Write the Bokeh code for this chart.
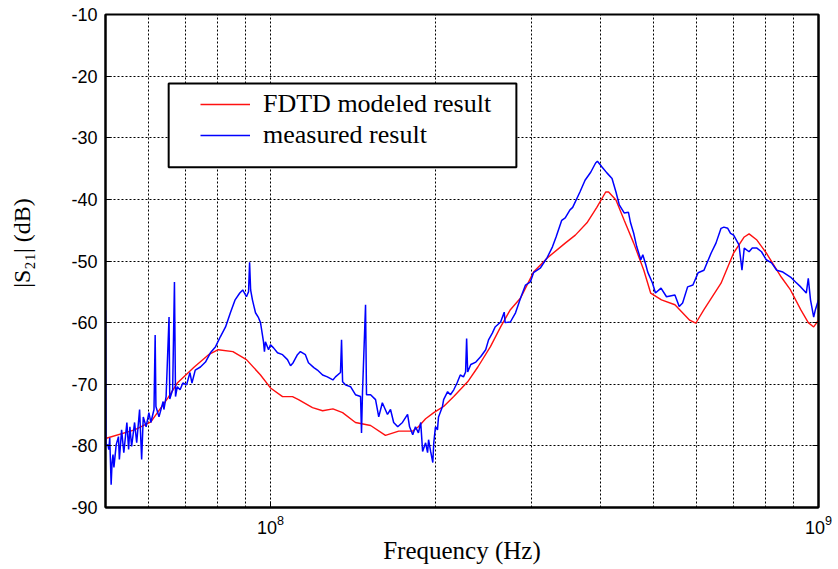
from bokeh.plotting import figure
from bokeh.models import (Range1d, FixedTicker, LinearAxis, BoxAnnotation,
                          Legend, LegendItem, ColumnDataSource)
from bokeh.embed import file_html
from bokeh.resources import INLINE

# ---------------- data (frequency in MHz, |S21| in dB) ----------------
red_f = [50.0, 56.5, 60.5, 65.0, 67.6, 72.6, 77.1, 80.3, 85.4, 90.4, 95.9, 100.0,
         105.2, 109.7, 112.5, 119.3, 124.5, 130.0, 135.4, 142.9, 152.3, 162.1, 171.4,
         181.8, 186.2, 191.9, 198.6, 207.0, 216.0, 229.0, 239.0, 252.0, 263.0, 274.0,
         286.0, 302.0, 320.0, 345.0, 360.0, 378.0, 394.0, 409.0, 414.0, 427.0, 442.0,
         460.0, 480.0, 494.0, 517.0, 547.0, 582.0, 597.0, 618.0, 664.0, 700.0, 732.0,
         747.0, 772.0, 803.0, 855.0, 889.0, 928.0, 958.0, 980.0, 1000.0]
red_db = [-78.8, -77.4, -76.1, -72.2, -69.8, -67.2, -65.2, -64.4, -64.7, -66.0, -68.5, -70.6,
          -72.0, -72.0, -72.5, -73.8, -74.3, -74.0, -74.6, -76.2, -76.7, -78.3, -77.6,
          -77.6, -76.9, -75.6, -74.6, -73.6, -72.0, -69.6, -67.2, -63.9, -60.7, -57.9,
          -56.0, -51.8, -49.5, -47.1, -45.8, -43.8, -41.3, -38.8, -38.8, -40.1, -43.4,
          -47.1, -51.5, -55.2, -56.3, -57.1, -59.6, -60.1, -57.9, -53.6, -48.7, -46.1,
          -45.6, -46.6, -48.7, -52.6, -54.7, -57.9, -60.0, -60.7, -59.6]

blue_f = [50.0, 50.1, 50.5, 50.7, 50.9, 51.2, 51.4, 51.6, 51.8, 52.3, 52.8, 53.0, 53.5,
          54.0, 54.7, 55.1, 55.4, 55.8, 56.5, 57.0, 57.7, 58.2, 58.6, 59.3, 60.0, 60.5,
          61.3, 61.6, 61.8, 62.6, 63.7, 63.9, 64.5, 65.3, 65.5, 66.3, 66.8, 67.1, 67.6,
          68.4, 69.2, 70.3, 71.3, 71.9, 72.9, 74.5, 76.1, 77.7, 79.4, 81.0, 82.8, 84.5,
          86.2, 87.9, 89.0, 90.4, 91.2, 91.6, 92.0, 92.7, 93.9, 95.1, 95.9, 97.1, 97.5,
          97.9, 99.2, 100.0, 101.3, 103.0, 105.2, 107.4, 108.8, 110.0, 112.0, 113.4,
          115.8, 117.3, 120.0, 121.8, 124.5, 127.0, 130.0, 131.4, 134.2, 134.8, 135.4,
          137.0, 140.0, 142.9, 146.0, 146.6, 147.2, 149.1, 149.7, 152.3, 155.5, 157.6,
          160.0, 163.5, 165.6, 167.8, 170.7, 174.1, 177.9, 179.4, 181.8, 183.9, 186.2,
          188.0, 189.5, 191.9, 193.5, 194.3, 196.0, 197.8, 198.6, 200.0, 201.7, 202.6,
          206.0, 207.0, 210.5, 213.0, 216.0, 219.0, 222.0, 225.0, 227.0, 228.0, 229.0,
          232.0, 237.0, 242.0, 247.0, 250.0, 254.0, 257.0, 263.0, 267.0, 268.0, 274.0,
          280.0, 286.0, 292.0, 298.0, 302.0, 311.0, 320.0, 327.0, 332.0, 340.0, 345.0,
          352.0, 356.0, 367.0, 375.0, 384.0, 392.0, 395.0, 403.0, 411.0, 420.0, 427.0,
          433.0, 442.0, 450.0, 454.0, 460.0, 466.0, 474.0, 478.0, 484.0, 488.0, 498.0,
          504.0, 516.0, 528.0, 547.0, 557.0, 565.0, 577.0, 590.0, 603.0, 618.0, 637.0,
          650.0, 664.0, 672.0, 683.0, 691.0, 700.0, 716.0, 725.0, 732.0, 747.0, 757.0,
          772.0, 787.0, 803.0, 821.0, 839.0, 861.0, 889.0, 908.0, 928.0, 950.0, 958.0,
          967.0, 980.0, 987.0, 1000.0]
blue_db = [-58.0, -80.0, -79.8, -80.6, -78.7, -86.3, -82.7, -81.4, -83.5, -79.8, -78.5, -82.2, -77.4,
           -81.1, -76.2, -80.6, -76.9, -80.1, -76.2, -79.5, -74.1, -82.2, -75.3, -76.9, -74.6, -76.2,
           -74.1, -62.0, -73.6, -75.3, -72.8, -74.1, -72.0, -59.1, -72.4, -70.9, -53.4, -72.0, -70.4,
           -70.9, -69.8, -70.1, -68.1, -69.8, -67.7, -67.2, -66.4, -64.9, -63.9, -62.3, -60.7, -58.4,
           -56.3, -55.2, -54.7, -55.8, -55.0, -50.2, -54.7, -56.3, -58.4, -59.2, -60.0, -63.1, -64.7,
           -63.1, -64.4, -63.6, -64.1, -64.9, -65.2, -66.0, -67.0, -66.5, -65.2, -64.7,
           -65.2, -66.5, -67.3, -67.7, -68.5, -68.8, -69.3, -68.8, -68.1, -62.8, -69.6,
           -70.1, -70.4, -71.7, -72.0, -77.9, -71.4, -57.1, -71.7, -71.7, -72.5, -75.3,
           -73.0, -74.9, -74.1, -76.2, -76.9, -76.2, -74.9, -76.9, -78.2, -76.9, -77.9,
           -76.2, -80.9, -79.5, -81.1, -79.0, -80.9, -82.7, -79.5, -76.9, -77.4, -75.3,
           -73.6, -72.5, -71.2, -71.7, -70.9, -69.8, -68.5, -68.8, -68.0, -62.6, -68.0,
           -66.8, -66.4, -65.5, -64.4, -62.8, -61.7, -60.7, -59.9, -58.3, -60.0, -59.9,
           -58.4, -56.0, -53.9, -53.4, -51.9, -51.1, -49.4, -47.7, -46.1, -43.4, -43.0,
           -41.7, -41.3, -38.8, -36.9, -35.6, -34.1, -33.8, -34.8, -35.7, -36.6, -38.8,
           -40.9, -42.2, -42.1, -43.8, -45.5, -47.7, -49.8, -49.0, -50.6, -51.8, -53.6,
           -55.2, -54.4, -55.8, -55.5, -57.4, -56.8, -54.2, -53.9, -51.9, -51.5, -48.7,
           -47.1, -44.7, -44.5, -44.7, -45.5, -45.8, -47.4, -51.5, -47.9, -48.5, -47.9,
           -47.9, -48.5, -49.8, -50.3, -51.5, -51.8, -52.6, -53.4, -54.2, -55.2, -52.8,
           -56.3, -59.1, -57.9, -56.3]

y_ticks = [-90, -80, -70, -60, -50, -40, -30, -20, -10]
x_major = [1e8, 1e9]
x_minor = [6e7, 7e7, 8e7, 9e7, 2e8, 3e8, 4e8, 5e8, 6e8, 7e8, 8e8, 9e8]
series_names = ["FDTD modeled result", "measured result"]
x_title = "Frequency (Hz)"
y_title = "|S\u2082\u2081| (dB)"

# ---------------- figure ----------------
p = figure(width=836, height=566, x_axis_type="log",
           x_range=Range1d(5e7, 1e9), y_range=Range1d(-90, -10),
           output_backend="svg", toolbar_location=None,
           min_border_left=105, min_border_right=18, min_border_top=14, min_border_bottom=58)
p.background_fill_color = "white"
p.border_fill_color = "white"
p.outline_line_color = "black"
p.outline_line_width = 2

xt = FixedTicker(ticks=x_major, minor_ticks=x_minor)
yt = FixedTicker(ticks=y_ticks)
p.xaxis.ticker = xt
p.yaxis.ticker = yt
p.yaxis.major_label_overrides = {v: str(v) for v in y_ticks}

for ax in (p.xaxis[0], p.yaxis[0]):
    ax.axis_line_width = 2
    ax.axis_line_color = "black"
    ax.major_tick_in = 6
    ax.major_tick_out = 0
    ax.minor_tick_in = 0
    ax.minor_tick_out = 0
    ax.major_label_text_font = "Liberation Sans"
    ax.major_label_text_font_size = "18px"
    ax.major_label_text_color = "black"
    ax.axis_label_text_font = "Liberation Serif"
    ax.axis_label_text_font_style = "normal"
    ax.axis_label_text_color = "black"

p.xaxis.axis_label = x_title
p.xaxis.axis_label_text_font_size = "25px"
p.xaxis.major_label_standoff = 7
p.xaxis.axis_label_standoff = 0

# leading no-break spaces lift the rotated title a little above the frame centre
p.yaxis.axis_label = "\u00a0" * 6 + y_title
p.yaxis.axis_label_text_font_size = "24px"
p.yaxis.major_label_standoff = 8
p.yaxis.axis_label_standoff = 33

# mirrored axis on the right with inward ticks, no visible labels
ra = LinearAxis(ticker=yt, major_label_text_font_size="1px", major_label_text_alpha=0,
                major_tick_in=6, major_tick_out=0,
                minor_tick_in=0, minor_tick_out=0, axis_line_width=2, major_label_standoff=0)
p.add_layout(ra, "right")

for g in (p.xgrid[0], p.ygrid[0]):
    g.grid_line_color = "black"
    g.grid_line_dash = "2 2"
    g.grid_line_width = 1
p.xgrid.minor_grid_line_color = "black"
p.xgrid.minor_grid_line_dash = "2 2"
p.xgrid.minor_grid_line_width = 1

red_src = ColumnDataSource(dict(f=[v * 1e6 for v in red_f], db=red_db))
blue_src = ColumnDataSource(dict(f=[v * 1e6 for v in blue_f], db=blue_db))
r_red = p.line("f", "db", source=red_src, line_color="#ff1010", line_width=1.4)
r_blue = p.line("f", "db", source=blue_src, line_color="#0000ff", line_width=1.5)

box = BoxAnnotation(left=65.2e6, right=281e6, top=-21.2, bottom=-34.8,
                    fill_color="white", fill_alpha=1.0, line_color="black",
                    line_alpha=1.0, line_width=2)
p.add_layout(box)

legend = Legend(items=[LegendItem(label=series_names[0], renderers=[r_red]),
                       LegendItem(label=series_names[1], renderers=[r_blue])],
                location=(95, 357), border_line_color=None, background_fill_alpha=0,
                label_text_font="Liberation Serif", label_text_font_size="26px",
                label_text_color="black", glyph_width=50, glyph_height=30, label_height=30,
                label_standoff=13, spacing=1, padding=0, margin=0)
p.add_layout(legend)

open("out.html", "w").write(file_html(p, INLINE))
